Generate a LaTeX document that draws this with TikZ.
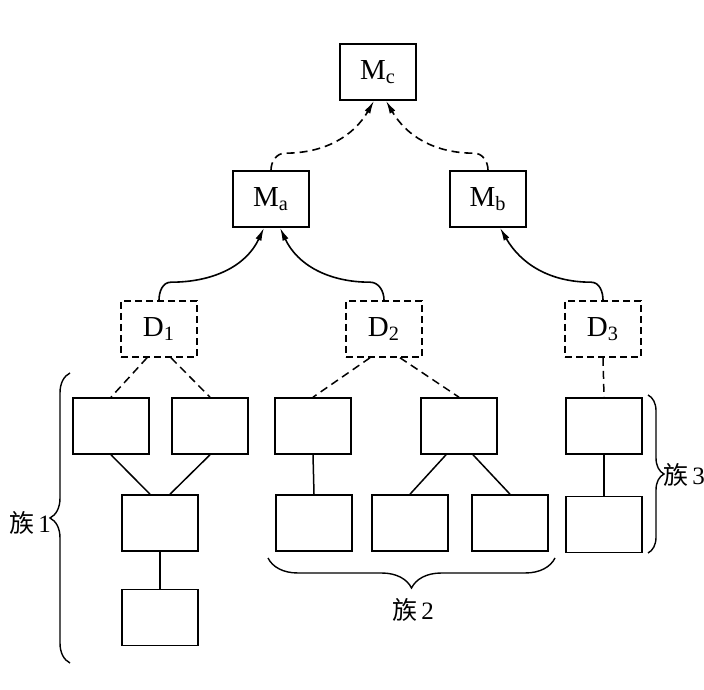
\documentclass[tikz,border=0pt]{standalone}
\usepackage{fontspec}
\setmainfont{Liberation Serif}
\newfontfamily\cjk{Noto Sans CJK SC}
\usepackage{tikz}
\usetikzlibrary{positioning, arrows.meta, calc, decorations.pathreplacing}

\begin{document}
\begin{tikzpicture}[
      x=0.5pt, y=0.5pt,
      font=\fontsize{14.5}{16}\selectfont,
      box/.style={
        draw, line width=0.8pt, inner sep=0pt,
        minimum width=38pt, minimum height=28pt
      },
      dbox/.style={
        box, dash pattern=on 3.5pt off 2pt
      },
      link/.style={line width=0.75pt},
      dlink/.style={link, dash pattern=on 4pt off 2.5pt},
      up/.style={line width=0.8pt, -{Latex[length=6.5pt, width=3.2pt]}},
      dup/.style={up, dash pattern=on 4pt off 2.5pt},
      fam/.style={line width=0.7pt, decorate},
      famlabel/.style={inner sep=1pt, font=\fontsize{12.5}{14}\selectfont}
    ]
      \useasboundingbox (0,0) rectangle (704,689);

      \node[box]  (mc) at (378,617) {M\textsubscript{c}};
      \node[box]  (ma) at (271,490) {M\textsubscript{a}};
      \node[box]  (mb) at (488,490) {M\textsubscript{b}};

      \node[dbox] (d1) at (159,360) {D\textsubscript{1}};
      \node[dbox] (d2) at (384,360) {D\textsubscript{2}};
      \node[dbox] (d3) at (603,360) {D\textsubscript{3}};

      \node[box]  (f1a) at (111,263) {};
      \node[box]  (f1b) at (210,263) {};
      \node[box]  (f1c) at (160,166) {};
      \node[box,  below=18.5pt of f1c] (f1d) {};

      \node[box]  (f2a) at (313,263) {};
      \node[box]  (f2b) at (459,263) {};
      \node[box]  (f2c) at (314,166) {};
      \node[box]  (f2d) at (410,166) {};
      \node[box]  (f2e) at (510,166) {};

      \node[box]  (f3a) at (604,263) {};
      \node[box,  below=20.5pt of f3a] (f3b) {};

      \draw[dup] (ma.north) to[out=90,in=180] ($(ma.north)+(14,17)$)
                 to[out=0,in=-120] ([xshift=-2pt]mc.south);
      \draw[dup] (mb.north) to[out=90,in=0] ($(mb.north)+(-14,17)$)
                 to[out=180,in=-60] ([xshift=4pt]mc.south);

      \draw[up] (d1.north) to[out=90,in=180] ($(d1.north)+(12,18)$)
                to[out=0,in=-115] ([xshift=-3.5pt]ma.south);
      \draw[up] (d2.north) to[out=90,in=0] ($(d2.north)+(-14,18)$)
                to[out=180,in=-65] ([xshift=4.5pt]ma.south);
      \draw[up] (d3.north) to[out=90,in=0] ($(d3.north)+(-12,18)$)
                to[out=180,in=-60] ([xshift=6pt]mb.south);

      \draw[dlink] ([xshift=-6pt]d1.south) -- (f1a.north);
      \draw[dlink] ([xshift=6pt]d1.south)  -- (f1b.north);
      \draw[dlink] ([xshift=-7pt]d2.south) -- (f2a.north);
      \draw[dlink] ([xshift=8pt]d2.south)  -- (f2b.north);
      \draw[dlink] (d3.south) -- (f3a.north);

      \draw[link] (f1a.south) -- ([xshift=-5pt]f1c.north);
      \draw[link] (f1b.south) -- ([xshift=5pt]f1c.north);
      \draw[link] (f1c.south) -- (f1d.north);
      \draw[link] (f2a.south) -- (f2c.north);
      \draw[link] ([xshift=-6.5pt]f2b.south) -- (f2d.north);
      \draw[link] ([xshift=7pt]f2b.south)    -- (f2e.north);
      \draw[link] (f3a.south) -- (f3b.north);

      \draw[fam, decoration={brace, amplitude=10pt}] (70,26) -- (70,316);
      \draw[fam, decoration={brace, amplitude=15pt}] (555,131) -- (268,131);
      \draw[fam, decoration={brace, amplitude=8pt}]  (648,294) -- (648,136);

      \node[famlabel] (fam1) at (30,166)  {{\cjk 族}\,1};
      \node[famlabel] (fam2) at (413,79)  {{\cjk 族}\,2};
      \node[famlabel] (fam3) at (684,214) {{\cjk 族}\,3};
    \end{tikzpicture}
\end{document}
